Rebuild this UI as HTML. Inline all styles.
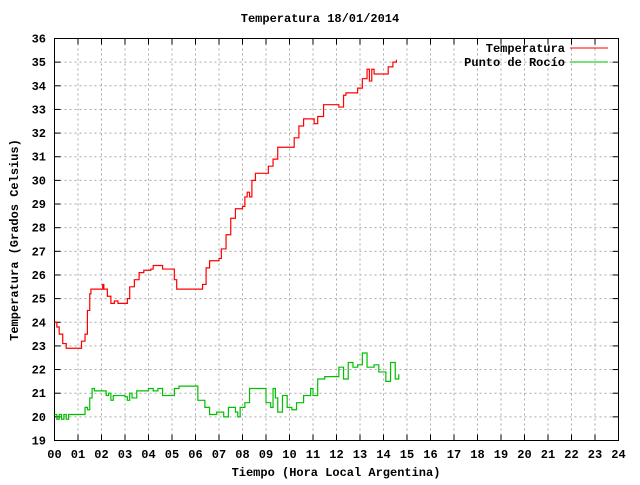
<!DOCTYPE html>
<html><head><meta charset="utf-8"><style>
body{margin:0;background:#fff}
svg text{font-family:"Liberation Mono",monospace;font-size:12px;font-weight:bold;fill:#000}
</style></head><body>
<svg id="c" width="640" height="480" xmlns="http://www.w3.org/2000/svg"></svg>
<script>
const hourTicks=["00","01","02","03","04","05","06","07","08","09","10","11","12","13","14","15","16","17","18","19","20","21","22","23","24"];
const tempTicks=[19,20,21,22,23,24,25,26,27,28,29,30,31,32,33,34,35,36];
const tempTime=[0,0.1,0.2,0.35,0.5,0.8,1.05,1.15,1.3,1.4,1.5,1.55,2.0,2.05,2.1,2.25,2.4,2.55,2.7,3.0,3.1,3.2,3.4,3.6,3.8,4.1,4.2,4.4,4.6,5.0,5.1,5.2,6.2,6.3,6.45,6.6,7.0,7.1,7.3,7.5,7.7,8.0,8.1,8.2,8.3,8.4,8.55,8.95,9.1,9.3,9.5,10.0,10.2,10.4,10.6,11.0,11.05,11.2,11.45,12.0,12.1,12.3,12.4,12.9,13.1,13.3,13.4,13.5,13.6,14.1,14.2,14.4,14.55];
const tempVals=[24.0,23.8,23.5,23.1,22.9,22.9,22.9,23.2,23.5,24.5,25.2,25.4,25.4,25.6,25.4,25.1,24.8,24.9,24.8,24.8,25.0,25.5,25.8,26.1,26.2,26.25,26.4,26.4,26.25,26.25,25.8,25.4,25.4,25.6,26.3,26.6,26.7,27.1,27.7,28.4,28.8,28.9,29.3,29.5,29.3,30.0,30.3,30.3,30.6,30.9,31.4,31.4,31.8,32.3,32.6,32.6,32.4,32.7,33.2,33.2,33.1,33.6,33.7,33.9,34.3,34.7,34.2,34.7,34.5,34.5,34.8,35.0,35.1];
const dewTime=[0,0.1,0.2,0.3,0.4,0.5,0.6,1.2,1.3,1.4,1.5,1.6,1.7,2.1,2.2,2.3,2.4,2.5,3.0,3.1,3.2,3.3,3.5,4.0,4.2,4.4,4.6,5.0,5.1,5.3,6.0,6.1,6.3,6.4,6.6,6.9,7.2,7.4,7.7,7.8,7.9,8.1,8.3,8.9,9.0,9.2,9.3,9.4,9.5,9.7,9.9,10.1,10.3,10.6,10.9,11.0,11.2,11.5,12.0,12.1,12.3,12.5,12.7,12.9,13.1,13.3,13.6,13.8,14.1,14.3,14.5,14.65];
const dewVals=[20.1,19.9,20.1,19.9,20.1,19.9,20.1,20.1,20.4,20.3,20.8,21.2,21.1,21.1,20.9,21.0,20.7,20.9,20.85,20.7,21.0,20.8,21.1,21.2,21.1,21.2,20.9,20.9,21.2,21.3,21.3,20.7,20.7,20.4,20.1,20.2,20.0,20.4,20.2,20.0,20.4,20.6,21.2,21.2,20.6,20.4,21.2,20.8,20.2,20.9,20.4,20.3,20.6,20.9,21.2,20.9,21.6,21.7,21.7,22.1,21.6,22.3,22.1,22.2,22.7,22.1,22.2,21.9,21.5,22.3,21.6,21.8];
const L=54.5,R=618.5,T=38.5,B=440.5;
const X=h=>L+h*(R-L)/24, Y=v=>B-(v-19)*(B-T)/17;
const svg=document.getElementById('c');const NS='http://www.w3.org/2000/svg';
function mk(t,a,txt){const e=document.createElementNS(NS,t);for(const k in a)e.setAttribute(k,a[k]);if(txt!==undefined)e.textContent=txt;svg.appendChild(e);return e;}
let e=mk('text',{x:320,y:22,'text-anchor':'middle'},'Temperatura 18/01/2014');


hourTicks.forEach((t,i)=>{const x=X(i);
 if(i>0&&i<24){let g=mk('line',{x1:x,y1:T,x2:x,y2:B,stroke:'#a8a8a8','stroke-dasharray':'2,3'});}
 mk('line',{x1:x,y1:B,x2:x,y2:B-6,stroke:'#000'});mk('line',{x1:x,y1:T,x2:x,y2:T+6,stroke:'#000'});
 let l=mk('text',{x:x,y:458,'text-anchor':'middle'},t);});
tempTicks.forEach(v=>{const y=Y(v);
 if(v>19&&v<36){let g=mk('line',{x1:L,y1:y,x2:R,y2:y,stroke:'#a8a8a8','stroke-dasharray':'2,3'});}
 mk('line',{x1:L,y1:y,x2:L+6,y2:y,stroke:'#000'});mk('line',{x1:R,y1:y,x2:R-6,y2:y,stroke:'#000'});
 let l=mk('text',{x:46,y:y+4,'text-anchor':'end'},v);});
e=mk('rect',{x:L,y:T,width:R-L,height:B-T,fill:'none',stroke:'#000'});


function step(ts,vs){let d='M'+X(ts[0])+','+Y(vs[0]);for(let i=1;i<ts.length;i++){d+=' H'+X(ts[i])+' V'+Y(vs[i]);}return d;}
e=mk('path',{d:step(dewTime,dewVals),fill:'none',stroke:'#00c000','stroke-width':1.2});


e=mk('path',{d:step(tempTime,tempVals),fill:'none',stroke:'#ff0000','stroke-width':1.2});


e=mk('text',{x:565,y:52,'text-anchor':'end'},'Temperatura');


e=mk('line',{x1:570,y1:48,x2:608,y2:48,stroke:'#ff0000'});


e=mk('text',{x:565,y:66,'text-anchor':'end'},'Punto de Rocío');


e=mk('line',{x1:570,y1:62,x2:608,y2:62,stroke:'#00c000'});


e=mk('text',{x:336,y:476,'text-anchor':'middle'},'Tiempo (Hora Local Argentina)');


e=mk('text',{x:18,y:240,'text-anchor':'middle',transform:'rotate(-90 18 240)'},'Temperatura (Grados Celsius)');


</script>
</body></html>
